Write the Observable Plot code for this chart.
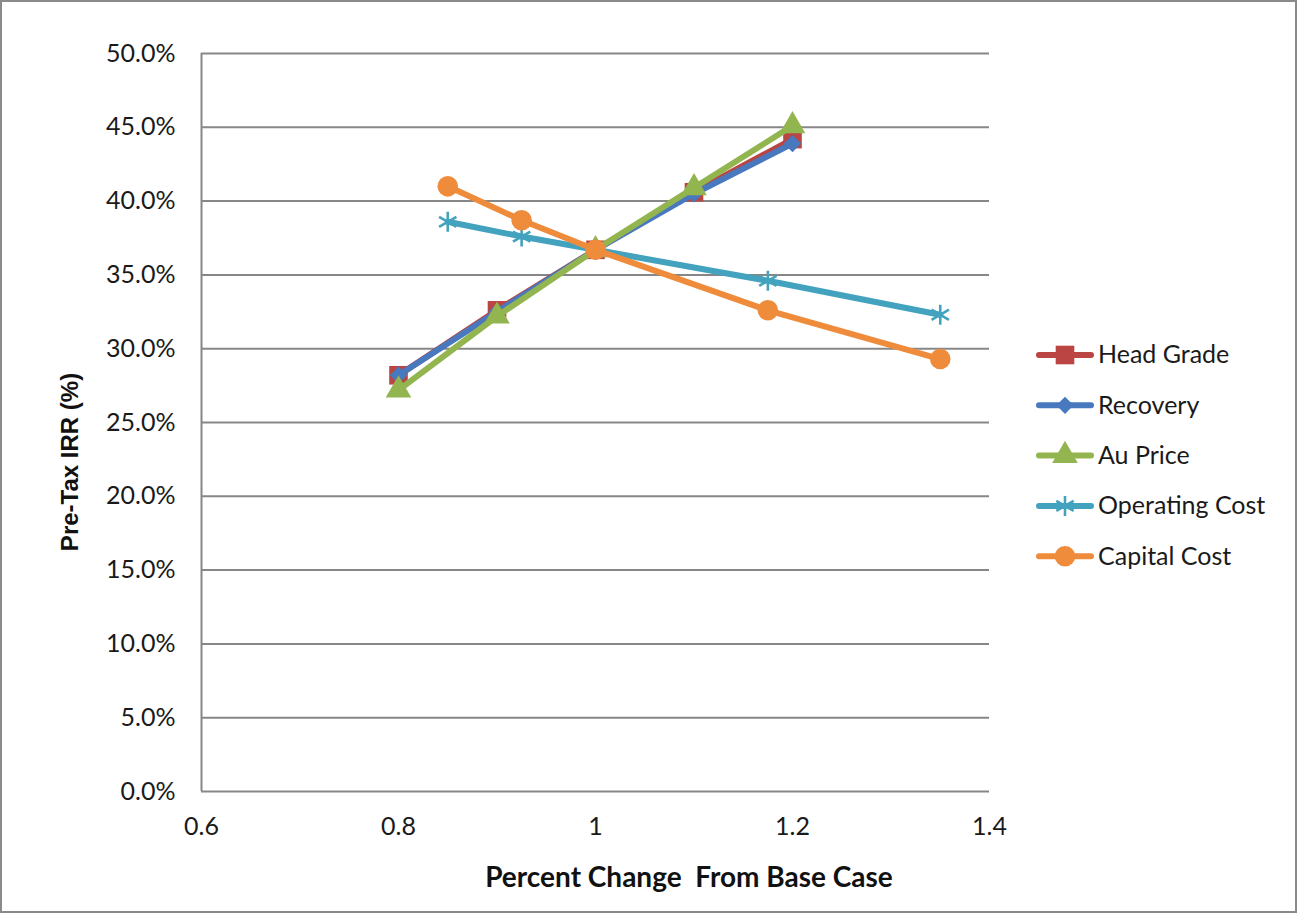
<!DOCTYPE html>
<html><head><meta charset="utf-8">
<script src="https://cdn.jsdelivr.net/npm/d3@7"></script>
<script src="https://cdn.jsdelivr.net/npm/@observablehq/plot@0.6"></script>
<style>
html,body{margin:0;padding:0;background:#fff;}
#chart{position:relative;width:1297px;height:913px;background:#fff;overflow:hidden;}
#chart svg{position:absolute;left:0;top:0;}
#frame{position:absolute;left:0;top:0;width:1297px;height:913px;box-sizing:border-box;border:2px solid #8a8a8a;pointer-events:none;}
</style></head><body><div id="chart"><div id="frame"></div></div>
<script>
// ---- data ----
const seriesNames = ["Head Grade", "Recovery", "Au Price", "Operating Cost", "Capital Cost"];
const seriesColors = ["#BA4542", "#4878BD", "#93B550", "#43A2BE", "#EE8C3C"];
const seriesSymbols = ["square", "diamond2", "triangle", "asterisk", "circle"];

const headGradeX = [0.8, 0.9, 1.0, 1.1, 1.2];
const headGradeY = [28.2, 32.6, 36.7, 40.6, 44.2];
const recoveryX = [0.8, 0.9, 1.0, 1.1, 1.2];
const recoveryY = [28.2, 32.5, 36.7, 40.5, 43.9];
const auPriceX = [0.8, 0.9, 1.0, 1.1, 1.2];
const auPriceY = [27.2, 32.2, 36.7, 40.9, 45.1];
const operatingCostX = [0.85, 0.925, 1.0, 1.175, 1.35];
const operatingCostY = [38.6, 37.6, 36.7, 34.6, 32.3];
const capitalCostX = [0.85, 0.925, 1.0, 1.175, 1.35];
const capitalCostY = [41.0, 38.7, 36.7, 32.6, 29.3];

const xTicks = [0.6, 0.8, 1, 1.2, 1.4];
const yTicks = [0, 5, 10, 15, 20, 25, 30, 35, 40, 45, 50];

const xTitle = "Percent Change  From Base Case";
const yTitle = "Pre-Tax IRR (%)";

const seriesX = [headGradeX, recoveryX, auPriceX, operatingCostX, capitalCostX];
const seriesY = [headGradeY, recoveryY, auPriceY, operatingCostY, capitalCostY];

const series = seriesNames.map((name, i) => ({
  name, color: seriesColors[i], symbol: seriesSymbols[i],
  data: seriesX[i].map((x, j) => ({x, y: seriesY[i][j], name}))
}));

const font = "Lato, 'Open Sans', sans-serif";
const W = 1297, H = 913;
const mL = 201, mR = 308, mT = 53, mB = 122;

const symbolR = {square: 10.5, diamond2: 7.8, triangle: 9.5, asterisk: 9.5, circle: 10.3};
const d3Sym = {square: d3.symbolSquare, diamond2: d3.symbolDiamond2, triangle: d3.symbolTriangle, asterisk: d3.symbolAsterisk, circle: d3.symbolCircle};

const marks = [
  Plot.gridY(yTicks, {stroke: "#878787", strokeOpacity: 1, strokeWidth: 2}),
  Plot.ruleX([0.6], {stroke: "#878787", strokeWidth: 2}),
  Plot.axisY(yTicks, {tickSize: 0, tickPadding: 26, tickFormat: d => d.toFixed(1) + "%", fontSize: 25, fill: "#1a1a1a", label: null}),
  Plot.axisX(xTicks, {tickSize: 0, tickPadding: 26, tickFormat: d => String(d), fontSize: 25, fill: "#1a1a1a", label: null})
];
for (const s of series) {
  marks.push(Plot.line(s.data, {x: "x", y: "y", stroke: s.color, strokeWidth: 6, strokeLinejoin: "round", strokeLinecap: "round"}));
  if (s.symbol === "asterisk") {
    marks.push(Plot.dot(s.data, {x: "x", y: "y", symbol: "asterisk", r: symbolR.asterisk, stroke: s.color, strokeWidth: 2.6, fill: "none"}));
  } else {
    marks.push(Plot.dot(s.data, {x: "x", y: "y", symbol: s.symbol, r: symbolR[s.symbol], fill: s.color, stroke: "none"}));
  }
}

const chart = Plot.plot({
  width: W, height: H,
  marginLeft: mL, marginRight: mR, marginTop: mT, marginBottom: mB,
  style: {fontFamily: font, color: "#1a1a1a", background: "white", overflow: "visible"},
  x: {domain: [0.6, 1.4]},
  y: {domain: [0, 50]},
  marks
});

const svg = d3.select(chart);
// axis titles
svg.append("text").attr("x", 689).attr("y", 880).attr("text-anchor", "middle").attr("dominant-baseline", "middle")
  .attr("font-family", font).attr("font-size", 28).attr("font-weight", "bold").attr("fill", "#111")
  .style("white-space", "pre").text(xTitle);
svg.append("text").attr("transform", "translate(72,462) rotate(-90)").attr("text-anchor", "middle").attr("dominant-baseline", "middle")
  .attr("font-family", "'Liberation Sans', Arial, sans-serif").attr("font-size", 24).attr("font-weight", "bold").attr("fill", "#111").text(yTitle);

// legend
const legendY0 = 355, legendStep = 50.3;
series.forEach((s, i) => {
  const y = legendY0 + i * legendStep;
  const g = svg.append("g");
  g.append("line").attr("x1", 1039).attr("x2", 1091).attr("y1", y).attr("y2", y)
    .attr("stroke", s.color).attr("stroke-width", 6).attr("stroke-linecap", "round");
  const r = symbolR[s.symbol];
  const path = d3.symbol(d3Sym[s.symbol], Math.PI * r * r)();
  const p = g.append("path").attr("d", path).attr("transform", `translate(1065,${y})`);
  if (s.symbol === "asterisk") p.attr("fill", "none").attr("stroke", s.color).attr("stroke-width", 2.6);
  else p.attr("fill", s.color).attr("stroke", "none");
  g.append("text").attr("x", 1098).attr("y", y + 2).attr("text-anchor", "start").attr("dominant-baseline", "middle")
    .attr("font-family", font).attr("font-size", 25).attr("fill", "#1a1a1a").text(s.name);
});

document.getElementById("chart").insertBefore(chart, document.getElementById("frame"));
</script>
</body></html>
